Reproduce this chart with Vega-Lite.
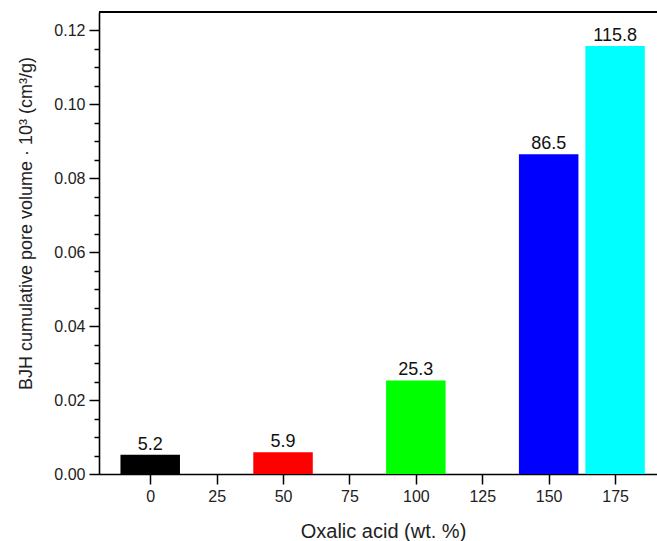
{
  "$schema": "https://vega.github.io/schema/vega-lite/v6.json",
  "width": 558,
  "height": 462,
  "autosize": "none",
  "padding": {"left": 99, "top": 12, "right": 0, "bottom": 67},
  "background": "white",
  "config": {
    "view": {"stroke": null},
    "font": "Liberation Sans",
    "axis": {
      "grid": false,
      "domainColor": "black",
      "domainWidth": 1.6,
      "tickColor": "black",
      "tickWidth": 1.5,
      "labelColor": "#222222",
      "titleColor": "#222222",
      "labelFont": "Liberation Sans",
      "titleFont": "Liberation Sans",
      "labelFontSize": 16,
      "titleFontSize": 18,
      "titleFontWeight": "normal"
    }
  },
  "data": {
    "values": [
      {"acid": 0, "volume": 0.0052, "label": "5.2"},
      {"acid": 50, "volume": 0.0059, "label": "5.9"},
      {"acid": 100, "volume": 0.0253, "label": "25.3"},
      {"acid": 150, "volume": 0.0865, "label": "86.5"},
      {"acid": 175, "volume": 0.1158, "label": "115.8"}
    ]
  },
  "resolve": {"axis": {"y": "independent"}},
  "layer": [
    {
      "mark": {"type": "bar", "width": 59.5, "stroke": null},
      "encoding": {
        "x": {
          "field": "acid",
          "type": "quantitative",
          "scale": {"domain": [-17.4, 188.9], "nice": false, "zero": false},
          "axis": {
            "values": [0, 25, 50, 75, 100, 125, 150, 175],
            "tickSize": 10,
            "labelPadding": 4,
            "title": "Oxalic acid (wt. %)",
            "titleFontSize": 20,
            "titleX": 284,
            "titleY": 63,
            "titleBaseline": "alphabetic"
          }
        },
        "y": {
          "field": "volume",
          "type": "quantitative",
          "scale": {"domain": [0, 0.125], "nice": false},
          "axis": {
            "orient": "left",
            "values": [0, 0.02, 0.04, 0.06, 0.08, 0.1, 0.12],
            "format": ".2f",
            "tickSize": 10,
            "labelPadding": 4,
            "title": "BJH cumulative pore volume · 10³ (cm³/g)",
            "titleX": -64,
            "titleY": 211,
            "titleBaseline": "bottom"
          }
        },
        "color": {
          "field": "acid",
          "type": "nominal",
          "scale": {"domain": [0, 50, 100, 150, 175], "range": ["#000000", "#ff0000", "#00ff00", "#0000ff", "#00ffff"]},
          "legend": null
        }
      }
    },
    {
      "mark": {"type": "text", "baseline": "alphabetic", "dy": -5, "fontSize": 18, "color": "#111111", "font": "Liberation Sans"},
      "encoding": {
        "x": {"field": "acid", "type": "quantitative"},
        "y": {
          "field": "volume",
          "type": "quantitative",
          "axis": {
            "orient": "left",
            "values": [0.005, 0.01, 0.015, 0.025, 0.03, 0.035, 0.045, 0.05, 0.055, 0.065, 0.07, 0.075, 0.085, 0.09, 0.095, 0.105, 0.11, 0.115],
            "tickSize": 5,
            "labels": false,
            "domain": false,
            "title": null
          }
        },
        "text": {"field": "label"}
      }
    },
    {
      "mark": {"type": "rule", "color": "black", "strokeWidth": 1.6},
      "encoding": {"y": {"datum": 0.125, "axis": null}}
    }
  ]
}
